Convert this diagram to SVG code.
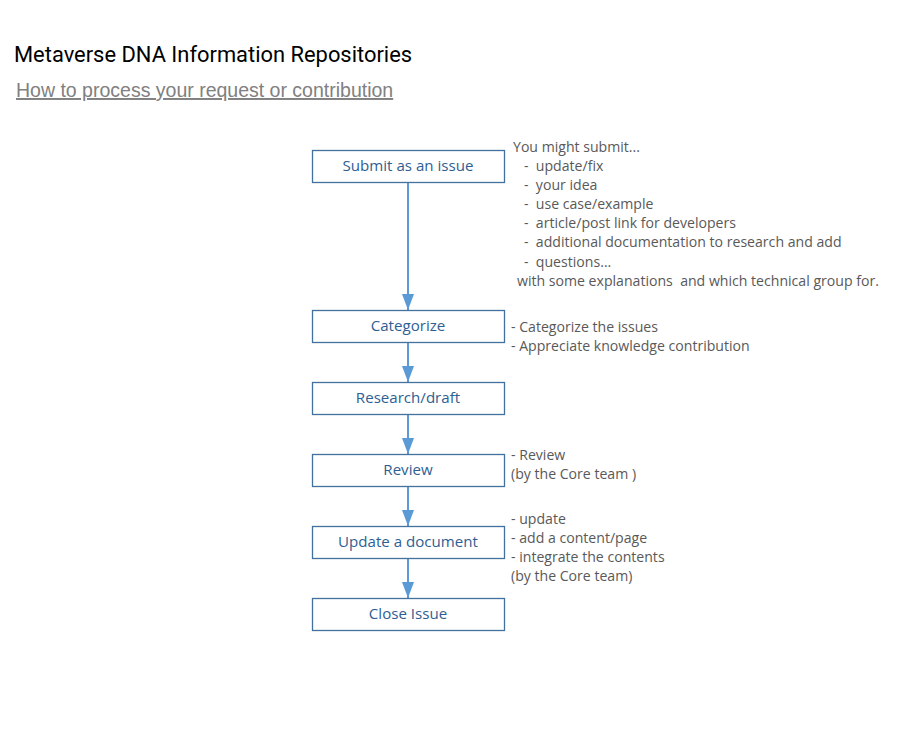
<svg xmlns="http://www.w3.org/2000/svg" width="898" height="732" viewBox="0 0 898 732">
<style>
.box{fill:#fff;stroke:#41719c;stroke-width:1.3}
.bt{font-family:"Open Sans","Noto Sans",sans-serif;font-size:15.1px;fill:#2e5e92;text-anchor:middle}
.st{font-family:"Open Sans","Noto Sans",sans-serif;font-size:14.1px;fill:#595959;white-space:pre}
.conn{stroke:#5b9bd5;stroke-width:2;fill:none}
</style>
<defs>
<marker id="ah" viewBox="0 0 16 12" refX="16" refY="6" markerWidth="16" markerHeight="12" markerUnits="userSpaceOnUse" orient="auto">
<path d="M0,0 L16,6 L0,12 Z" fill="#5b9bd5"/>
</marker>
</defs>
<rect width="898" height="732" fill="#fff"/>
<text x="14" y="62" font-family="Roboto,'DejaVu Sans',sans-serif" font-size="21.9" fill="#000">Metaverse DNA Information Repositories</text>
<text x="16" y="97" font-family="'Liberation Sans',Arial,sans-serif" font-size="19.5" fill="#808080" text-decoration="underline">How to process your request or contribution</text>
<g id="connectors">
<line class="conn" x1="408" y1="182" x2="408" y2="310" marker-end="url(#ah)"/>
<line class="conn" x1="408" y1="342" x2="408" y2="382" marker-end="url(#ah)"/>
<line class="conn" x1="408" y1="414" x2="408" y2="454" marker-end="url(#ah)"/>
<line class="conn" x1="408" y1="486" x2="408" y2="526" marker-end="url(#ah)"/>
<line class="conn" x1="408" y1="558" x2="408" y2="598" marker-end="url(#ah)"/>
</g>
<g id="submit"><rect class="box" x="312.5" y="150.5" width="192" height="32"/><text class="bt" x="408" y="171">Submit as an issue</text></g>
<g id="categorize"><rect class="box" x="312.5" y="310.5" width="192" height="32"/><text class="bt" x="408" y="331">Categorize</text></g>
<g id="research"><rect class="box" x="312.5" y="382.5" width="192" height="32"/><text class="bt" x="408" y="403">Research/draft</text></g>
<g id="review"><rect class="box" x="312.5" y="454.5" width="192" height="32"/><text class="bt" x="408" y="475">Review</text></g>
<g id="update"><rect class="box" x="312.5" y="526.5" width="192" height="32"/><text class="bt" x="408" y="547">Update a document</text></g>
<g id="close"><rect class="box" x="312.5" y="598.5" width="192" height="32"/><text class="bt" x="408" y="619">Close Issue</text></g>
<g id="notes-submit">
<text class="st" x="513" y="152">You might submit...</text>
<text class="st" x="524" y="171">-  update/fix</text>
<text class="st" x="524" y="190">-  your idea</text>
<text class="st" x="524" y="209">-  use case/example</text>
<text class="st" x="524" y="228">-  article/post link for developers</text>
<text class="st" x="524" y="247">-  additional documentation to research and add</text>
<text class="st" x="524" y="267">-  questions...</text>
<text class="st" x="517" y="286">with some explanations  and which technical group for.</text>
</g>
<g id="notes-categorize">
<text class="st" x="511" y="332">- Categorize the issues</text>
<text class="st" x="511" y="351">- Appreciate knowledge contribution</text>
</g>
<g id="notes-review">
<text class="st" x="511" y="460">- Review</text>
<text class="st" x="511" y="479">(by the Core team )</text>
</g>
<g id="notes-update">
<text class="st" x="511" y="524">- update</text>
<text class="st" x="511" y="543">- add a content/page</text>
<text class="st" x="511" y="562">- integrate the contents</text>
<text class="st" x="511" y="581">(by the Core team)</text>
</g>
</svg>
